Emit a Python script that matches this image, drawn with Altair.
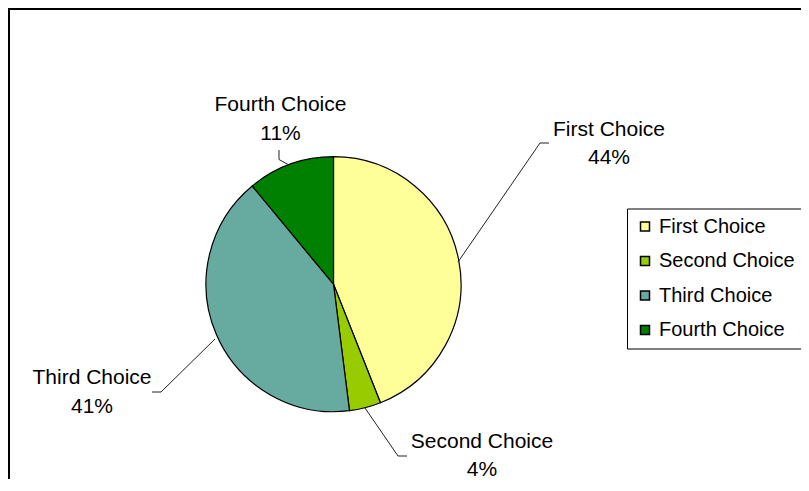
import altair as alt
import pandas as pd

# ---- data ----
categories = ["First Choice", "Second Choice", "Third Choice", "Fourth Choice"]
shares = [44, 4, 41, 11]
colors = ["#FFFF99", "#99CC00", "#66AAA0", "#008000"]

# ---- layout (pixels) ----
W, H = 792, 470
CX, CY, R = 324.5, 275.2, 127.5
LINE_H = 28.5
label_dx = [275.5, 148.5, -241.5, -53]
label_dy = [-140, 172, 108.5, -164.5]
leader_x = [[124.5, 206.5, 215.5], [31.5, 64.5, 73.5], [-118.5, -172.5, -181.5], [-45.5, -54.5, -54.5]]
leader_y = [[-22.2, -141.2, -141.2], [123.8, 171.8, 171.8], [54.8, 107.8, 107.8], [-119.7, -124.7, -134.2]]

pie_df = pd.DataFrame({"category": categories, "share": shares, "idx": list(range(len(categories)))})

lab_df = pd.DataFrame({
    "category": categories,
    "label": [f"{c}\n{s}%" for c, s in zip(categories, shares)],
    "px": [CX + d for d in label_dx],
    "py": [CY + d - LINE_H / 2 for d in label_dy],
})

rows = []
for c, xs, ys in zip(categories, leader_x, leader_y):
    for k, (lx, ly) in enumerate(zip(xs, ys)):
        rows.append({"category": c, "step": k, "px": CX + lx, "py": CY + ly})
lead_df = pd.DataFrame(rows)

FONT = "Liberation Sans"

frame = alt.Chart(pd.DataFrame({"f": [0]})).mark_rect(
    fill="white", stroke="black", strokeWidth=2
).encode(
    x=alt.value(0), x2=alt.value(W + 40), y=alt.value(0), y2=alt.value(H + 40)
)

pie = alt.Chart(pie_df).mark_arc(stroke="black", strokeWidth=1.2, radius=R).encode(
    theta=alt.Theta("share:Q", stack=True),
    color=alt.Color(
        "category:N",
        scale=alt.Scale(domain=categories, range=colors),
        legend=alt.Legend(
            title=None,
            orient="none",
            legendX=618,
            legendY=199.5,
            strokeColor="black",
            fillColor="white",
            padding=8,
            symbolType="square",
            symbolSize=81,
            symbolStrokeColor="black",
            symbolStrokeWidth=1.5,
            symbolOpacity=1,
            labelFontSize=20,
            labelFont=FONT,
            labelColor="black",
            rowPadding=14.5,
            labelOffset=4,
        ),
    ),
    order=alt.Order("idx:Q"),
    x=alt.value(CX),
    y=alt.value(CY),
)

leaders = alt.Chart(lead_df).mark_line(color="#222222", strokeWidth=1).encode(
    x=alt.X("px:Q", scale=None, axis=None),
    y=alt.Y("py:Q", scale=None, axis=None),
    detail="category:N",
    order="step:Q",
)

labels = alt.Chart(lab_df).mark_text(
    lineBreak="\n", fontSize=21, font=FONT, align="center", baseline="middle",
    lineHeight=LINE_H, color="black",
).encode(
    x=alt.X("px:Q", scale=None, axis=None),
    y=alt.Y("py:Q", scale=None, axis=None),
    text="label:N",
)

chart = alt.layer(frame, pie, leaders, labels).properties(
    width=W,
    height=H,
    background="white",
    autosize=alt.AutoSizeParams(type="none"),
    padding={"left": 1, "top": 1, "right": 0, "bottom": 0},
).configure_view(stroke=None)

chart.save("out.html", embed_options={"renderer": "svg", "actions": False})
